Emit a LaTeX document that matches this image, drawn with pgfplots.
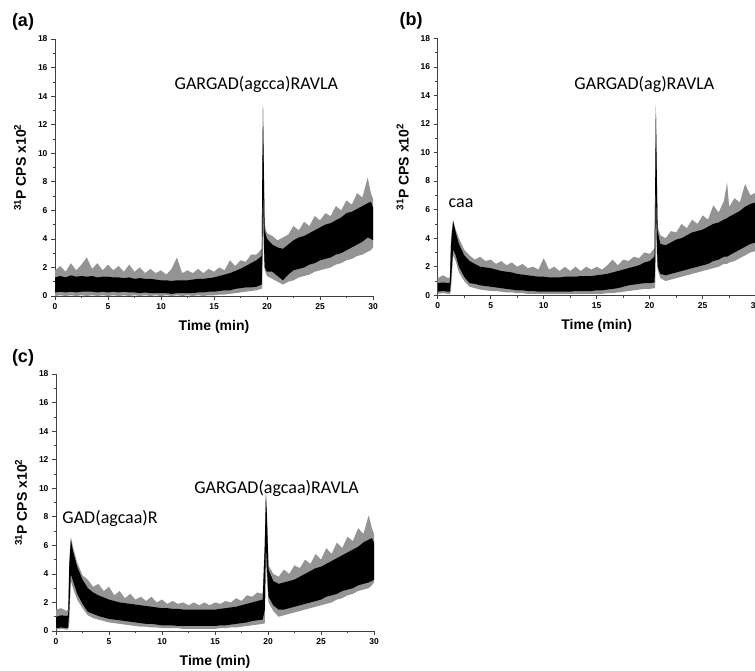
\documentclass[border=0pt]{standalone}
\usepackage{fontspec}
\setmainfont{Liberation Sans}
\newfontfamily\annfont{Carlito}
\usepackage{pgfplots}
\usepackage{pgfplotstable}
\pgfplotsset{compat=1.18}
\usepgfplotslibrary{fillbetween}

% t = time (min); glo/ghi = outer (grey) noise envelope; lo/hi = dense (black) band
\pgfplotstableread{
t glo lo hi ghi
0.0 0.0 0.25 1.3 1.8
0.5 0.05 0.3 1.4 2.1
1.0 0.0 0.25 1.3 1.7
1.5 0.05 0.3 1.45 2.3
2.0 0.0 0.25 1.35 1.8
2.5 0.05 0.3 1.4 2.2
3.0 0.0 0.3 1.35 2.7
3.5 0.05 0.3 1.4 1.9
4.0 0.0 0.25 1.3 2.3
4.5 0.05 0.3 1.35 1.8
5.0 0.0 0.25 1.35 2.2
5.5 0.05 0.3 1.3 1.8
6.0 0.0 0.25 1.3 2.1
6.5 0.05 0.3 1.25 1.7
7.0 0.0 0.25 1.3 2.2
7.5 0.05 0.25 1.2 1.7
8.0 0.0 0.2 1.25 2.0
8.5 0.05 0.25 1.2 1.6
9.0 0.0 0.2 1.2 1.9
9.5 0.05 0.2 1.15 1.6
10.0 0.0 0.2 1.1 1.8
10.5 0.05 0.2 1.1 1.5
11.0 0.0 0.15 1.05 1.9
11.5 0.05 0.2 1.1 2.7
12.0 0.0 0.2 1.1 1.6
12.5 0.05 0.2 1.1 1.8
13.0 0.0 0.2 1.15 1.6
13.5 0.05 0.25 1.2 1.9
14.0 0.0 0.25 1.2 1.6
14.5 0.05 0.3 1.25 1.9
15.0 0.05 0.3 1.3 1.7
15.5 0.1 0.35 1.4 2.0
16.0 0.1 0.4 1.5 1.8
16.5 0.15 0.4 1.6 2.5
17.0 0.2 0.5 1.75 2.1
17.5 0.25 0.55 1.9 2.5
18.0 0.3 0.6 2.1 2.4
18.5 0.35 0.6 2.3 2.9
19.0 0.4 0.65 2.5 2.9
19.5 0.5 0.8 2.8 3.3
19.55 0.6 2.0 8.0 8.5
19.62 6.0 8.0 13.2 13.4
19.70 3.0 4.0 9.0 9.5
19.78 1.8 2.0 4.6 5.0
20.0 1.4 1.7 4.0 4.4
20.5 1.2 1.7 3.6 4.2
21.0 1.0 1.4 3.4 3.9
21.5 0.8 1.1 3.3 4.1
22.0 1.0 1.5 3.6 4.3
22.5 1.1 1.8 3.9 4.9
23.0 1.3 1.9 4.1 4.6
23.5 1.4 2.0 4.2 5.2
24.0 1.5 2.2 4.4 4.9
24.5 1.7 2.3 4.6 5.6
25.0 1.8 2.5 4.8 5.3
25.5 1.9 2.6 5.0 5.8
26.0 2.0 2.7 5.1 5.6
26.5 2.2 2.9 5.3 6.3
27.0 2.3 3.0 5.5 6.0
27.5 2.5 3.2 5.8 6.7
28.0 2.6 3.4 5.9 6.4
28.5 2.8 3.6 6.1 7.2
29.0 2.9 3.8 6.3 6.9
29.5 3.1 4.1 6.5 8.3
29.8 3.2 4.0 6.6 7.2
30.0 3.4 3.9 6.2 6.8
}\tabA

\pgfplotstableread{
t glo lo hi ghi
0.0 0.1 0.25 0.85 1.2
0.5 0.15 0.3 0.9 1.4
1.0 0.1 0.25 0.85 1.2
1.15 0.1 0.25 0.9 1.3
1.25 0.3 1.0 3.5 4.0
1.45 2.8 3.2 5.2 5.3
1.7 2.4 2.8 4.4 4.6
2.0 1.6 2.0 3.6 4.0
2.5 1.0 1.3 2.8 3.2
3.0 0.6 0.85 2.4 2.8
3.5 0.5 0.8 2.2 2.5
4.0 0.4 0.7 2.0 2.7
4.5 0.35 0.65 1.95 2.4
5.0 0.3 0.6 1.9 2.5
5.5 0.3 0.55 1.8 2.2
6.0 0.25 0.5 1.7 2.4
6.5 0.2 0.45 1.65 2.1
7.0 0.2 0.4 1.6 2.3
7.5 0.15 0.35 1.5 2.0
8.0 0.15 0.35 1.45 2.2
8.5 0.1 0.3 1.4 1.9
9.0 0.1 0.3 1.35 2.0
9.5 0.1 0.25 1.3 1.8
10.0 0.1 0.25 1.3 2.6
10.5 0.1 0.25 1.25 1.8
11.0 0.1 0.25 1.25 2.0
11.5 0.1 0.25 1.25 1.7
12.0 0.1 0.25 1.3 2.0
12.5 0.1 0.25 1.3 1.7
13.0 0.1 0.3 1.3 2.0
13.5 0.1 0.3 1.35 1.7
14.0 0.1 0.3 1.35 2.0
14.5 0.1 0.3 1.35 1.8
15.0 0.1 0.35 1.4 2.0
15.5 0.1 0.35 1.45 1.8
16.0 0.15 0.4 1.5 2.1
16.5 0.15 0.45 1.6 2.5
17.0 0.2 0.5 1.7 2.1
17.5 0.25 0.6 1.8 2.5
18.0 0.3 0.7 1.9 2.4
18.5 0.35 0.75 2.0 2.7
19.0 0.4 0.8 2.1 2.6
19.5 0.45 0.85 2.3 3.0
20.0 0.45 0.85 2.4 2.9
20.45 0.5 0.9 2.7 3.3
20.52 0.6 2.0 8.0 8.5
20.58 6.0 8.0 13.2 13.5
20.66 3.0 4.0 9.0 9.5
20.75 1.8 2.0 4.5 4.8
21.0 1.2 1.5 3.6 4.2
21.5 1.0 1.4 3.5 4.0
22.0 1.1 1.5 3.7 4.5
22.5 1.2 1.6 3.9 4.4
23.0 1.3 1.7 4.0 5.0
23.5 1.4 1.8 4.2 4.7
24.0 1.5 1.9 4.4 5.3
24.5 1.6 2.0 4.5 5.0
25.0 1.7 2.1 4.6 5.6
25.5 1.8 2.2 4.8 5.3
26.0 1.9 2.4 5.0 6.3
26.5 2.0 2.5 5.1 5.8
27.0 2.2 2.7 5.3 6.6
27.3 2.2 2.7 5.4 7.9
27.5 2.3 2.8 5.5 6.2
28.0 2.4 3.0 5.7 6.8
28.5 2.6 3.2 5.9 6.5
29.0 2.8 3.4 6.2 7.8
29.5 3.0 3.6 6.4 7.0
30.0 3.1 3.7 6.5 7.2
}\tabB

\pgfplotstableread{
t glo lo hi ghi
0.0 0.1 0.2 1.0 1.5
0.5 0.15 0.25 1.1 1.6
1.0 0.1 0.2 1.05 1.4
1.15 0.1 0.25 1.1 1.5
1.25 0.5 1.5 4.5 5.0
1.4 3.5 4.0 6.4 6.6
1.6 3.0 3.5 5.6 5.9
2.0 2.2 2.6 4.5 4.8
2.5 1.6 1.9 3.6 3.9
3.0 1.1 1.35 3.0 3.6
3.5 0.9 1.2 2.7 3.1
4.0 0.8 1.05 2.5 3.3
4.5 0.7 0.95 2.35 2.8
5.0 0.6 0.85 2.2 3.1
5.5 0.55 0.8 2.1 2.5
6.0 0.5 0.75 2.0 2.8
6.5 0.45 0.7 1.95 2.3
7.0 0.4 0.65 1.9 2.6
7.5 0.35 0.6 1.85 2.2
8.0 0.3 0.55 1.8 2.4
8.5 0.3 0.5 1.75 2.1
9.0 0.25 0.5 1.7 2.4
9.5 0.25 0.45 1.65 2.0
10.0 0.2 0.4 1.6 2.2
10.5 0.2 0.4 1.6 1.9
11.0 0.2 0.4 1.55 2.1
11.5 0.2 0.35 1.55 1.9
12.0 0.15 0.35 1.5 2.0
12.5 0.15 0.35 1.5 1.8
13.0 0.15 0.35 1.5 2.0
13.5 0.15 0.35 1.5 1.8
14.0 0.15 0.35 1.5 2.0
14.5 0.15 0.35 1.5 1.8
15.0 0.15 0.35 1.5 2.0
15.5 0.2 0.4 1.55 1.9
16.0 0.2 0.4 1.6 2.1
16.5 0.25 0.45 1.65 2.0
17.0 0.25 0.5 1.7 2.3
17.5 0.3 0.55 1.8 2.1
18.0 0.35 0.6 1.9 2.5
18.5 0.4 0.7 2.0 2.4
19.0 0.45 0.75 2.1 2.7
19.5 0.5 0.8 2.2 2.6
19.7 0.55 1.5 6.0 6.5
19.8 5.0 6.0 9.6 9.8
19.9 3.5 4.5 8.0 8.3
20.05 2.0 2.4 4.3 4.6
20.5 1.4 1.8 3.5 4.0
21.0 1.0 1.5 3.3 3.8
21.5 1.1 1.5 3.4 4.3
22.0 1.2 1.6 3.5 4.0
22.5 1.3 1.7 3.6 4.6
23.0 1.4 1.8 3.8 4.4
23.5 1.5 1.9 4.0 5.0
24.0 1.6 2.0 4.2 4.7
24.5 1.7 2.1 4.4 5.4
25.0 1.8 2.2 4.5 5.0
25.5 1.9 2.4 4.7 5.8
26.0 2.0 2.5 4.9 5.4
26.5 2.2 2.6 5.1 6.2
27.0 2.3 2.8 5.3 5.8
27.5 2.5 2.9 5.5 6.6
28.0 2.6 3.0 5.7 6.3
28.5 2.8 3.2 5.9 7.2
29.0 2.9 3.3 6.2 6.8
29.5 3.0 3.4 6.4 8.1
29.8 3.2 3.5 6.5 7.2
30.0 3.4 3.6 6.2 6.8
}\tabC

\pgfplotsset{
  chrom/.style={
    scale only axis, width=318pt, height=257pt, anchor=south west,
    xmin=0, xmax=30, ymin=0, ymax=18,
    axis x line*=bottom, axis y line*=left,
    axis line style={-, line width=0.8pt, black!75},
    xtick={0,5,...,30}, ytick={0,2,...,18},
    minor x tick num=1, minor y tick num=1,
    tick align=outside, major tick length=4pt, minor tick length=2.5pt,
    tick style={black!75, line width=0.6pt},
    tick label style={font=\fontsize{8.5}{9}\selectfont\bfseries},
    /pgf/number format/assume math mode=true,
    xlabel={Time (min)},
    ylabel={\textsuperscript{31}P CPS x10\textsuperscript{2}},
    label style={font=\fontsize{14}{16}\selectfont\bfseries},
    xlabel style={at={(axis description cs:0.5,-0.1206)}, anchor=center},
    ylabel style={at={(axis description cs:-0.110,0.5)}, anchor=center},
    clip=false,
  },
}
\tikzset{ann/.style={font=\annfont\fontsize{18}{20}\selectfont}}

\newcommand{\trace}[1]{%
  \addplot[draw=none, forget plot, name path=gh] table[x=t, y=ghi] {#1};
  \addplot[draw=none, forget plot, name path=gl] table[x=t, y=glo] {#1};
  \addplot[draw=none, forget plot, name path=bh] table[x=t, y=hi] {#1};
  \addplot[draw=none, forget plot, name path=bl] table[x=t, y=lo] {#1};
  \addplot[black!42, forget plot] fill between[of=gh and gl];
  \addplot[black, forget plot] fill between[of=bh and bl];
}

\begin{document}
\begin{tikzpicture}[x=1pt, y=1pt]
  % (a)
  \begin{axis}[chrom, at={(55pt,375pt)}]
    \trace{\tabA}
    \node[ann] at (axis cs:19,14.8) {GARGAD(agcca)RAVLA};
  \end{axis}
  % (b)
  \begin{axis}[chrom, at={(437.7pt,375.7pt)}]
    \trace{\tabB}
    \node[ann] at (axis cs:19.5,14.8) {GARGAD(ag)RAVLA};
    \node[ann] at (axis cs:2.2,6.45) {caa};
  \end{axis}
  % (c)
  \begin{axis}[chrom, at={(56pt,40pt)}]
    \trace{\tabC}
    \node[ann] at (axis cs:20.8,10.0) {GARGAD(agcaa)RAVLA};
    \node[ann] at (axis cs:5.1,7.9) {GAD(agcaa)R};
  \end{axis}
  \node[font=\fontsize{18}{20}\selectfont\bfseries] at (23,649) {(a)};
  \node[font=\fontsize{18}{20}\selectfont\bfseries] at (411,650) {(b)};
  \node[font=\fontsize{18}{20}\selectfont\bfseries] at (23,313) {(c)};
  \pgfresetboundingbox
  \useasboundingbox (0,0) rectangle (755,671);
\end{tikzpicture}
\end{document}
